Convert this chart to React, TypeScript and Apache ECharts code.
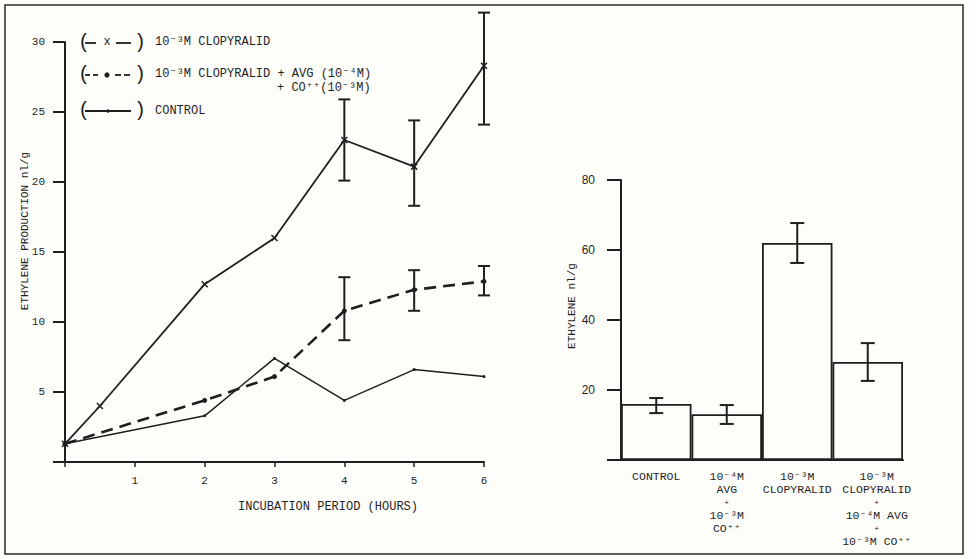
import React, { useEffect, useRef } from 'react';
import * as echarts from 'echarts';

// ---- Left chart: ethylene production over time ----
const hoursClop = [0, 0.5, 2, 3, 4, 5, 6];
const clopValues = [1.3, 4.0, 12.7, 16.0, 23.0, 21.1, 28.3];
const hoursMix = [0, 2, 3, 4, 5, 6];
const mixValues = [1.3, 4.4, 6.1, 10.8, 12.3, 12.9];
const hoursControl = [0, 2, 3, 4, 5, 6];
const controlValues = [1.3, 3.3, 7.4, 4.4, 6.6, 6.1];
const errHours = [4, 5, 6];
const clopLow = [20.1, 18.3, 24.1];
const clopHigh = [25.9, 24.4, 32.1];
const mixLow = [8.7, 10.8, 11.9];
const mixHigh = [13.2, 13.7, 14.0];

// ---- Right chart: ethylene by treatment ----
const barCategories = [
  'CONTROL',
  '10⁻⁴M\nAVG\n{p|+}\n10⁻³M\nCO⁺⁺',
  '10⁻³M\nCLOPYRALID',
  '10⁻³M\nCLOPYRALID\n{p|+}\n10⁻⁴M AVG\n{p|+}\n10⁻³M CO⁺⁺',
];
const barValues = [16.0, 13.1, 62.0, 28.0];
const barLow = [13.4, 10.3, 56.3, 22.6];
const barHigh = [17.7, 15.7, 67.7, 33.4];

const legendTexts = [
  '10⁻³M CLOPYRALID',
  '10⁻³M CLOPYRALID + AVG (10⁻⁴M)',
  '+ CO⁺⁺(10⁻³M)',
  'CONTROL',
];

const INK = '#1f1f1f';
const MONO = '"Liberation Mono", "DejaVu Sans Mono", monospace';

const labelRich = {
  p: { fontFamily: MONO, fontSize: 8, color: INK, lineHeight: 13 },
};

function errorRender(cap: number) {
  return (params: any, api: any) => {
    const x = api.value(0);
    const lo = api.coord([x, api.value(1)]);
    const hi = api.coord([x, api.value(2)]);
    const style = { stroke: INK, lineWidth: 2 };
    return {
      type: 'group',
      children: [
        { type: 'line', shape: { x1: lo[0], y1: lo[1], x2: hi[0], y2: hi[1] }, style },
        { type: 'line', shape: { x1: lo[0] - cap, y1: lo[1], x2: lo[0] + cap, y2: lo[1] }, style },
        { type: 'line', shape: { x1: hi[0] - cap, y1: hi[1], x2: hi[0] + cap, y2: hi[1] }, style },
      ],
    };
  };
}

function legendRow(y: number, kind: string) {
  const els: any[] = [
    { type: 'text', x: 78, y, style: { text: '(', font: `20px ${MONO}`, fill: INK, verticalAlign: 'middle' } },
    { type: 'text', x: 134, y, style: { text: ')', font: `20px ${MONO}`, fill: INK, verticalAlign: 'middle' } },
  ];
  const ls = { stroke: INK, lineWidth: 1.8 };
  if (kind === 'x') {
    els.push({ type: 'line', shape: { x1: 85, y1: y + 1, x2: 96, y2: y + 1 }, style: ls });
    els.push({ type: 'text', x: 107, y, style: { text: 'x', font: `12px ${MONO}`, fill: INK, align: 'center', verticalAlign: 'middle' } });
    els.push({ type: 'line', shape: { x1: 116, y1: y + 1, x2: 131, y2: y + 1 }, style: ls });
  } else if (kind === 'dash') {
    [[85, 90], [93, 98], [115, 121], [124, 130]].forEach(([a, b]) =>
      els.push({ type: 'line', shape: { x1: a, y1: y + 1, x2: b, y2: y + 1 }, style: { stroke: INK, lineWidth: 1.8 } })
    );
    els.push({ type: 'circle', shape: { cx: 107, cy: y + 1, r: 2.6 }, style: { fill: INK } });
  } else {
    els.push({ type: 'line', shape: { x1: 85, y1: y + 1, x2: 131, y2: y + 1 }, style: ls });
    els.push({ type: 'circle', shape: { cx: 108, cy: y + 1, r: 1.8 }, style: { fill: INK } });
  }
  return els;
}

export default function App() {
  const ref = useRef<HTMLDivElement>(null);
  useEffect(() => {
    if (!ref.current) return;
    const chart = echarts.init(ref.current, undefined, { renderer: 'svg' });
    const axisText = { fontFamily: MONO, fontSize: 11, color: INK };
    const legendFont = `12px ${MONO}`;
    const option: any = {
      animation: false,
      backgroundColor: '#fdfdf9',
      grid: [
        { left: 65, top: 42, width: 419, height: 420 },
        { left: 621, top: 180, width: 282, height: 280 },
      ],
      xAxis: [
        {
          type: 'value', gridIndex: 0, min: 0, max: 6, interval: 1,
          axisLine: { lineStyle: { color: INK, width: 2 } },
          axisTick: { length: 5, lineStyle: { color: INK, width: 1.5 } },
          axisLabel: { ...axisText, margin: 13, formatter: (v: number) => (v === 0 ? '' : String(v)) },
          splitLine: { show: false },
        },
        {
          type: 'category', gridIndex: 1,
          data: barCategories.map((c, i) =>
            i === 3 ? { value: c, textStyle: { padding: [0, 0, 0, 18] } } : c
          ),
          axisLine: { lineStyle: { color: INK, width: 2 } },
          axisTick: { length: 12, alignWithLabel: false, lineStyle: { color: INK, width: 1.8 } },
          axisLabel: {
            interval: 0, margin: 10, fontFamily: MONO, fontSize: 11.5, color: INK, lineHeight: 13,
            align: 'center', rich: labelRich,
          },
        },
      ],
      yAxis: [
        {
          type: 'value', gridIndex: 0, min: 0, max: 30, interval: 5,
          axisLine: { show: true, lineStyle: { color: INK, width: 2 } },
          axisTick: { show: true, length: 12, lineStyle: { color: INK, width: 2 } },
          axisLabel: { ...axisText, margin: 20, formatter: (v: number) => (v === 0 ? '' : String(v)) },
          splitLine: { show: false },
        },
        {
          type: 'value', gridIndex: 1, min: 0, max: 80, interval: 20,
          axisLine: { show: true, lineStyle: { color: INK, width: 2 } },
          axisTick: { show: true, length: 14, lineStyle: { color: INK, width: 2 } },
          axisLabel: { fontFamily: '"Liberation Sans", Arial, sans-serif', fontSize: 12, color: INK, margin: 26, formatter: (v: number) => (v === 0 ? '' : String(v)) },
          splitLine: { show: false },
        },
      ],
      series: [
        {
          type: 'line', xAxisIndex: 0, yAxisIndex: 0,
          data: hoursClop.map((h, i) => [h, clopValues[i]]),
          lineStyle: { color: INK, width: 1.8 },
          symbol: 'path://M0,0L10,10M10,0L0,10', symbolSize: 6,
          itemStyle: { color: INK, borderColor: INK, borderWidth: 1.5 },
        },
        {
          type: 'line', xAxisIndex: 0, yAxisIndex: 0,
          data: hoursMix.map((h, i) => [h, mixValues[i]]),
          lineStyle: { color: INK, width: 2.6, type: [12, 7] },
          symbol: 'circle', symbolSize: 5,
          itemStyle: { color: INK },
        },
        {
          type: 'line', xAxisIndex: 0, yAxisIndex: 0,
          data: hoursControl.map((h, i) => [h, controlValues[i]]),
          lineStyle: { color: INK, width: 1.5 },
          symbol: 'circle', symbolSize: 3,
          itemStyle: { color: INK },
        },
        {
          type: 'custom', xAxisIndex: 0, yAxisIndex: 0, clip: false,
          data: errHours.map((h, i) => [h, clopLow[i], clopHigh[i]]),
          renderItem: errorRender(6),
        },
        {
          type: 'custom', xAxisIndex: 0, yAxisIndex: 0, clip: false,
          data: errHours.map((h, i) => [h, mixLow[i], mixHigh[i]]),
          renderItem: errorRender(6),
        },
        {
          type: 'bar', xAxisIndex: 1, yAxisIndex: 1,
          data: barValues, barWidth: '100%',
          itemStyle: { color: 'rgba(0,0,0,0)', borderColor: INK, borderWidth: 1.8 },
        },
        {
          type: 'custom', xAxisIndex: 1, yAxisIndex: 1, clip: false,
          data: barValues.map((_, i) => [i, barLow[i], barHigh[i]]),
          renderItem: errorRender(7),
        },
      ],
      graphic: [
        { type: 'rect', shape: { x: 5, y: 5, width: 958, height: 549 }, style: { fill: 'none', stroke: '#2a2a2a', lineWidth: 1.5 } },
        ...legendRow(42, 'x'),
        ...legendRow(74, 'dash'),
        ...legendRow(110, 'dot'),
        { type: 'text', x: 155, y: 42, style: { text: legendTexts[0], font: legendFont, fill: INK, verticalAlign: 'middle' } },
        { type: 'text', x: 155, y: 74, style: { text: legendTexts[1], font: legendFont, fill: INK, verticalAlign: 'middle' } },
        { type: 'text', x: 277, y: 88, style: { text: legendTexts[2], font: legendFont, fill: INK, verticalAlign: 'middle' } },
        { type: 'text', x: 155, y: 111, style: { text: legendTexts[3], font: legendFont, fill: INK, verticalAlign: 'middle' } },
        {
          type: 'text', x: 25, y: 231, rotation: Math.PI / 2,
          style: { text: 'ETHYLENE PRODUCTION nl/g', font: `11px ${MONO}`, fill: INK, align: 'center', verticalAlign: 'middle' },
        },
        {
          type: 'text', x: 572, y: 306, rotation: Math.PI / 2,
          style: { text: 'ETHYLENE nl/g', font: `11px ${MONO}`, fill: INK, align: 'center', verticalAlign: 'middle' },
        },
        {
          type: 'text', x: 328, y: 507,
          style: { text: 'INCUBATION PERIOD (HOURS)', font: `12px ${MONO}`, fill: INK, align: 'center', verticalAlign: 'middle' },
        },
      ],
    };
    chart.setOption(option);
    return () => chart.dispose();
  }, []);
  return <div ref={ref} style={{ position: 'fixed', left: 0, top: 0, width: 970, height: 558 }} />;
}
